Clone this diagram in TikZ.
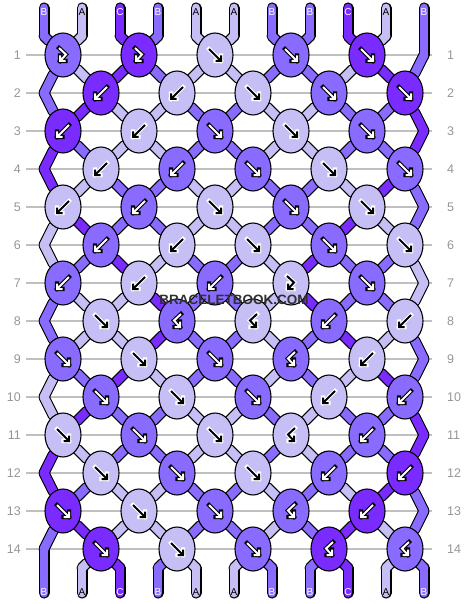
\documentclass[tikz,border=0pt]{standalone}
\usepackage{fontspec}
\setmainfont{Liberation Sans}
\usetikzlibrary{shapes.geometric}

\definecolor{strA}{RGB}{198,191,246}
\definecolor{strB}{RGB}{138,107,255}
\definecolor{strC}{RGB}{122,43,255}
\definecolor{rowgray}{RGB}{150,150,150}
\definecolor{linegray}{RGB}{192,192,192}
\definecolor{brandgray}{RGB}{48,48,48}
\colorlet{arrowfgA}{black}
\colorlet{arrowbgA}{white}
\colorlet{arrowfgB}{white}
\colorlet{arrowbgB}{black}
\colorlet{arrowfgC}{white}
\colorlet{arrowbgC}{black}

% arrow glyphs inside the knots (f, b, fb, bf)
\newcommand\kpathf{(-6,-6) -- (6,6) (0.5,6) -- (6,6) -- (6,0.5)}
\newcommand\kpathb{(6,-6) -- (-6,6) (-0.5,6) -- (-6,6) -- (-6,0.5)}
\newcommand\kpathfb{(-4,-7) -- (3,-0.5) -- (-3,6) (2.5,6) -- (-3,6) -- (-3,0.5)}
\newcommand\kpathbf{(4,-7) -- (-3,-0.5) -- (3,6) (-2.5,6) -- (3,6) -- (3,0.5)}

% string colours between two rows, positions 1 to 11
\newcommand\strandlist{
  a/0/{B,A,C,B,A,A,B,B,C,A,B},
  0/1/{B,A,C,B,A,A,B,B,C,A,B},
  1/2/{B,A,C,B,A,A,B,B,A,C,B},
  2/3/{B,C,A,A,B,B,A,A,B,B,C},
  3/4/{C,B,A,A,B,B,A,A,B,B,C},
  4/5/{C,A,B,B,A,A,B,B,A,C,B},
  5/6/{A,C,B,B,A,A,B,B,C,A,B},
  6/7/{A,B,C,A,B,B,A,C,B,B,A},
  7/8/{B,A,A,C,B,B,A,C,B,B,A},
  8/9/{B,A,A,C,B,B,A,B,C,A,B},
  9/10/{A,B,C,A,B,B,A,B,A,C,B},
  10/11/{A,C,B,B,A,A,B,A,B,B,C},
  11/12/{C,A,B,B,A,A,B,A,B,B,C},
  12/13/{C,B,A,A,B,B,A,B,A,C,B},
  13/14/{B,C,A,A,B,B,A,B,C,A,B},
  14/15/{B,A,C,B,A,A,B,B,C,A,B},
  15/z/{B,A,C,B,A,A,B,B,C,A,B}}

\pgfdeclarelayer{grid}
\pgfdeclarelayer{strands}
\pgfsetlayers{grid,strands,main}

\begin{document}
\begin{tikzpicture}[x=1pt, y=-1pt]
    % Define the styles
    \tikzstyle{knot} = [ellipse, draw=black, line width=1.1, fill=#1, minimum width=36, minimum height=44, inner sep=0]
    \tikzstyle{strand outline} = [draw=black, line width=11, line cap=round]
    \tikzstyle{strand} = [draw=#1, line width=8.8, line cap=round]
    \tikzstyle{arrow back} = [draw=arrowbg#1, line width=4.2, line join=miter, line cap=rect]
    \tikzstyle{arrow front} = [draw=arrowfg#1, line width=2, line join=miter]
    \tikzstyle{strlabel} = [text=arrowfg#1, font=\fontsize{10}{10}\selectfont, inner sep=0]
    \tikzstyle{rownum} = [text=rowgray, font=\fontsize{12.5}{12.5}\selectfont, inner sep=0]
    \tikzstyle{gridline} = [draw=linegray, line width=1.4]

    \useasboundingbox (0,0) rectangle (468,604);

    % Row numbers and guide lines
    \foreach \r in {1,...,14} {
        \node [rownum, anchor=east] (rl-\r) at (21, 17+38*\r) {\r};
        \node [rownum, anchor=west] (rr-\r) at (447, 17+38*\r) {\r};
        \begin{pgfonlayer}{grid}
            \draw [gridline] (26, 17+38*\r) -- (432, 17+38*\r);
        \end{pgfonlayer}
    }

    % Ends of the strings and bends on the edges
    \foreach \i in {1,...,11} {
        \coordinate (na-\i) at (6+38*\i, 8);
        \coordinate (n0-\i) at (6+38*\i, 36);
        \coordinate (n15-\i) at (6+38*\i, 568);
        \coordinate (nz-\i) at (6+38*\i, 593);
    }
    \foreach \r in {2,4,...,14} \coordinate (n\r-1) at (44, 17+38*\r);
    \foreach \r in {1,3,...,13} \coordinate (n\r-11) at (424, 17+38*\r);

    % Place the knots, row by row
    \foreach \r/\kl in {
        1/{B/fb,C/fb,A/f,B/f,C/f},
        2/{C/b,A/b,A/f,B/f,C/f},
        3/{C/b,A/b,B/f,A/f,B/f},
        4/{A/b,B/b,B/f,A/f,B/f},
        5/{A/b,B/b,A/f,B/f,A/f},
        6/{B/b,A/b,A/f,B/f,A/f},
        7/{B/b,A/b,B/b,A/fb,B/f},
        8/{A/f,B/bf,A/bf,B/b,A/b},
        9/{B/f,A/f,B/f,B/bf,A/b},
        10/{B/f,A/f,B/f,A/b,B/b},
        11/{A/f,B/f,A/f,A/bf,B/b},
        12/{A/f,B/f,A/f,B/b,C/b},
        13/{C/f,A/f,B/f,B/bf,C/b},
        14/{C/f,A/f,B/f,C/bf,B/bf}} {
        \foreach [count=\p] \c/\t in \kl {
            \pgfmathtruncatemacro\ia{2*\p-mod(\r,2)}
            \pgfmathtruncatemacro\ib{\ia+1}
            \node [knot=str\c, alias=n\r-\ib] (n\r-\ia) at (25+38*\ia, 17+38*\r) {};
            \expandafter\let\expandafter\kpath\csname kpath\t\endcsname
            \draw [arrow back=\c, shift={(n\r-\ia.center)}] \kpath;
            \draw [arrow front=\c, shift={(n\r-\ia.center)}] \kpath;
        }
    }

    % Connect the knots with the strings
    \begin{pgfonlayer}{strands}
    \foreach \ra/\rb/\s in \strandlist {
        \foreach [count=\i] \c in \s
            \draw [strand outline] (n\ra-\i) -- (n\rb-\i);
    }
    \foreach \ra/\rb/\s in \strandlist {
        \foreach [count=\i] \c in \s
            \draw [strand=str\c] (n\ra-\i) -- (n\rb-\i);
    }
    \end{pgfonlayer}

    % String letters at both ends
    \foreach [count=\i] \c in {B,A,C,B,A,A,B,B,C,A,B} {
        \node [strlabel=\c] (top-\i) at (6+38*\i, 12) {\c};
        \node [strlabel=\c] (bot-\i) at (6+38*\i, 592) {\c};
    }

    \node [font=\bfseries\fontsize{13.5}{13.5}\selectfont, text=brandgray] (brand) at (234, 300) {BRACELETBOOK.COM};
\end{tikzpicture}
\end{document}
